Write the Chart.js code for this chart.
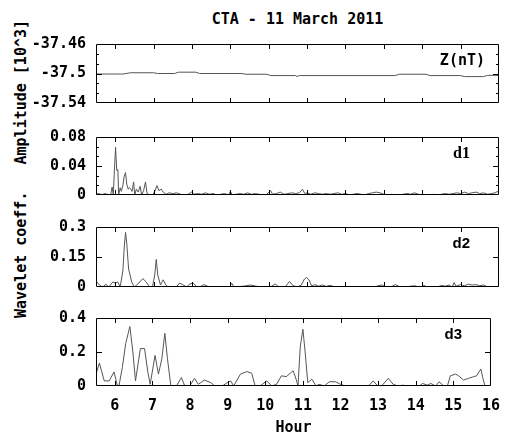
<!DOCTYPE html>
<html>
<head>
<meta charset="utf-8">
<script src="https://cdn.jsdelivr.net/npm/chart.js@4.4.1/dist/chart.umd.min.js"></script>
<style>
  body { margin: 0; background: #fff; }
  #wrap { position: relative; width: 511px; height: 437px; overflow: hidden; }
  canvas { position: absolute; left: 0; }
  .txt {
    position: absolute;
    font: bold 15px "DejaVu Sans Mono", monospace;
    color: #000;
    white-space: pre;
  }
  #title { left: 297.5px; top: 19px; transform: translate(-50%, -50%); }
  #ylab { left: 21px; top: 168.5px; transform: translate(-50%, -50%) rotate(-90deg); }
</style>
</head>
<body>
<div id="wrap">
  <div class="txt" id="title">CTA - 11 March 2011</div>
  <div class="txt" id="ylab">Wavelet coeff.   Amplitude [10^3]</div>
  <canvas id="c0"></canvas>
  <canvas id="c1"></canvas>
  <canvas id="c2"></canvas>
  <canvas id="c3"></canvas>
</div>
<script>
// x axis
const hourTicks = [6, 7, 8, 9, 10, 11, 12, 13, 14, 15, 16];

// Z(nT) amplitude
const zHours = [5.5, 6.2, 6.4, 7.0, 7.1, 7.55, 7.65, 8.1, 8.2, 9.3, 9.4, 9.95, 10.05, 10.7, 10.74, 10.8,
  13.3, 13.4, 14.1, 14.2, 15.0, 15.1, 15.6, 15.7, 16];
const zValues = [-37.5007, -37.5007, -37.499, -37.499, -37.5, -37.5, -37.4982, -37.4982, -37.5, -37.5,
  -37.501, -37.501, -37.5028, -37.5028, -37.504, -37.5028, -37.5028, -37.501, -37.501, -37.5028,
  -37.5028, -37.5042, -37.5042, -37.5025, -37.5025];
const zTicks = [-37.54, -37.5, -37.46];

// d1
const d1Hours = [5.50, 5.58, 5.65, 5.72, 5.80, 5.88, 5.92, 5.95, 5.98, 6.01, 6.04, 6.07, 6.09, 6.13, 6.16,
  6.20, 6.23, 6.27, 6.30, 6.34, 6.37, 6.41, 6.44, 6.48, 6.51, 6.55, 6.60, 6.65, 6.69, 6.74, 6.79, 6.83,
  6.90, 6.98, 7.03, 7.09, 7.14, 7.20, 7.25, 7.33, 7.40, 7.50, 7.60, 7.70, 7.80, 7.90, 7.99, 8.05, 8.15,
  8.25, 8.35, 8.45, 8.55, 8.65, 8.75, 8.85, 8.95, 9.00, 9.05, 9.15, 9.25, 9.35, 9.45, 9.55, 9.65, 9.75,
  9.85, 9.95, 10.05, 10.10, 10.20, 10.30, 10.40, 10.50, 10.60, 10.70, 10.80, 10.88, 10.94, 11.00, 11.10,
  11.20, 11.30, 11.40, 11.50, 11.60, 11.70, 11.80, 11.90, 12.00, 12.10, 12.20, 12.30, 12.40, 12.50,
  12.60, 12.70, 12.80, 12.90, 13.00, 13.10, 13.20, 13.30, 13.40, 13.50, 13.60, 13.70, 13.80, 13.90,
  14.00, 14.10, 14.20, 14.30, 14.40, 14.50, 14.60, 14.70, 14.80, 14.90, 15.00, 15.10, 15.20, 15.30,
  15.40, 15.50, 15.60, 15.70, 15.80, 15.90, 15.96, 16.00];
const d1Values = [0.001, 0.002, 0.000, 0.002, 0.001, 0.000, 0.011, 0.000, 0.034, 0.066, 0.034, 0.035,
  0.000, 0.010, 0.005, 0.013, 0.025, 0.031, 0.015, 0.008, 0.010, 0.008, 0.005, 0.018, 0.000, 0.008,
  0.004, 0.012, 0.000, 0.006, 0.018, 0.002, 0.000, 0.000, 0.005, 0.013, 0.006, 0.008, 0.004, 0.001,
  0.003, 0.002, 0.003, 0.001, 0.000, 0.001, 0.004, 0.001, 0.002, 0.001, 0.003, 0.001, 0.002, 0.000,
  0.001, 0.002, 0.000, 0.005, 0.000, 0.001, 0.002, 0.001, 0.003, 0.001, 0.002, 0.001, 0.000, 0.001,
  0.006, 0.001, 0.002, 0.004, 0.001, 0.002, 0.003, 0.002, 0.003, 0.008, 0.002, 0.003, 0.001, 0.003,
  0.002, 0.001, 0.002, 0.001, 0.002, 0.003, 0.001, 0.002, 0.000, 0.001, 0.002, 0.001, 0.000, 0.002,
  0.003, 0.004, 0.003, 0.001, 0.000, 0.001, 0.000, 0.000, 0.001, 0.002, 0.001, 0.003, 0.001, 0.000,
  0.000, 0.000, 0.001, 0.000, 0.001, 0.002, 0.001, 0.002, 0.003, 0.002, 0.004, 0.002, 0.003, 0.004,
  0.002, 0.003, 0.001, 0.002, 0.003, 0.005, 0.002];
const d1Ticks = [0, 0.04, 0.08];

// d2
const d2Hours = [5.50, 5.59, 5.67, 5.76, 5.83, 5.94, 6.01, 6.07, 6.13, 6.20, 6.24, 6.27, 6.30, 6.35, 6.43,
  6.50, 6.59, 6.72, 6.81, 6.90, 6.97, 7.03, 7.07, 7.11, 7.18, 7.25, 7.32, 7.38, 7.59, 7.68, 7.77, 7.87,
  7.94, 8.03, 8.12, 8.21, 8.31, 8.42, 8.51, 8.99, 9.03, 9.10, 9.38, 9.51, 9.65, 9.78, 10.04, 10.17,
  10.26, 10.43, 10.54, 10.63, 10.74, 10.85, 10.93, 10.99, 11.05, 11.12, 11.20, 11.30, 11.40, 11.50,
  11.60, 11.70, 11.80, 12.00, 12.20, 12.40, 12.60, 12.75, 12.85, 12.95, 13.05, 13.20, 13.30, 13.40,
  13.55, 13.70, 13.80, 13.90, 14.00, 14.05, 14.10, 14.40, 14.50, 14.60, 14.70, 14.78, 14.83, 14.88,
  15.00, 15.10, 15.20, 15.30, 15.40, 15.50, 15.60, 15.70, 16.00];
const d2Values = [0.030, 0.010, 0.000, 0.014, 0.000, 0.025, 0.020, 0.025, 0.000, 0.080, 0.210, 0.273,
  0.220, 0.090, 0.025, 0.000, 0.015, 0.042, 0.025, 0.000, 0.000, 0.060, 0.138, 0.060, 0.010, 0.036,
  0.010, 0.000, 0.000, 0.020, 0.010, 0.000, 0.015, 0.020, 0.003, 0.000, 0.012, 0.003, 0.000, 0.000,
  0.020, 0.000, 0.005, 0.010, 0.005, 0.000, 0.000, 0.015, 0.000, 0.000, 0.028, 0.008, 0.000, 0.010,
  0.040, 0.048, 0.035, 0.005, 0.012, 0.004, 0.010, 0.003, 0.008, 0.002, 0.000, 0.000, 0.000, 0.000,
  0.002, 0.000, 0.006, 0.010, 0.000, 0.002, 0.012, 0.002, 0.000, 0.004, 0.006, 0.000, 0.000, 0.010,
  0.000, 0.000, 0.008, 0.004, 0.010, 0.000, 0.022, 0.004, 0.012, 0.006, 0.014, 0.010, 0.012, 0.006,
  0.010, 0.000, 0.000];
const d2Ticks = [0, 0.15, 0.3];

// d3
const d3Hours = [5.50, 5.59, 5.72, 5.85, 5.98, 6.07, 6.11, 6.20, 6.29, 6.40, 6.48, 6.55, 6.68, 6.79, 6.88,
  6.94, 7.07, 7.16, 7.25, 7.33, 7.40, 7.49, 7.64, 7.77, 7.86, 7.99, 8.12, 8.22, 8.38, 8.55, 8.66, 8.86,
  8.99, 9.08, 9.16, 9.34, 9.51, 9.64, 9.73, 9.86, 10.04, 10.17, 10.30, 10.43, 10.56, 10.69, 10.74,
  10.82, 10.87, 10.93, 11.00, 11.06, 11.13, 11.24, 11.35, 11.43, 11.57, 11.70, 11.87, 12.00, 12.13,
  12.74, 12.87, 12.99, 13.09, 13.27, 13.40, 13.53, 13.66, 13.75, 14.10, 14.18, 14.31, 14.40, 14.53,
  14.62, 14.75, 14.84, 14.92, 15.06, 15.14, 15.27, 15.40, 15.54, 15.62, 15.73, 15.78, 15.84, 16.00];
const d3Values = [0.070, 0.135, 0.030, 0.030, 0.083, 0.000, 0.000, 0.109, 0.250, 0.350, 0.200, 0.030,
  0.220, 0.220, 0.080, 0.010, 0.180, 0.070, 0.160, 0.310, 0.160, 0.000, 0.000, 0.050, 0.000, 0.000,
  0.045, 0.010, 0.035, 0.020, 0.000, 0.000, 0.020, 0.030, 0.000, 0.070, 0.085, 0.075, 0.000, 0.000,
  0.030, 0.000, 0.010, 0.060, 0.055, 0.080, 0.090, 0.040, 0.000, 0.230, 0.334, 0.200, 0.020, 0.040,
  0.000, 0.010, 0.000, 0.025, 0.025, 0.010, 0.000, 0.000, 0.030, 0.000, 0.000, 0.045, 0.010, 0.000,
  0.005, 0.000, 0.000, 0.015, 0.005, 0.015, 0.000, 0.025, 0.000, 0.000, 0.060, 0.070, 0.060, 0.035,
  0.045, 0.055, 0.060, 0.100, 0.050, 0.000, 0.000];
const d3Ticks = [0, 0.2, 0.4];

Chart.defaults.font.family = '"DejaVu Sans Mono", monospace';
Chart.defaults.font.weight = 'bold';
Chart.defaults.font.size = 15;
Chart.defaults.color = '#000';

const panels = [
  { id: 'c0', hours: zHours, values: zValues, ticks: zTicks, minor: true, top: 35, bottom: 112,
    label: 'Z(nT)', labelFont: 'bold 15px "DejaVu Sans Mono"', labelRight: 14 },
  { id: 'c1', hours: d1Hours, values: d1Values, ticks: d1Ticks, minor: true, top: 128, bottom: 204,
    label: 'd1', labelFont: 'bold 16px "Liberation Serif"', labelRight: 29 },
  { id: 'c2', hours: d2Hours, values: d2Values, ticks: d2Ticks, minor: false, top: 218, bottom: 296,
    label: 'd2', labelFont: 'bold 15px "Liberation Sans"', labelRight: 29 },
  { id: 'c3', hours: d3Hours, values: d3Values, ticks: d3Ticks, minor: false, top: 309, bottom: 386,
    label: 'd3', labelFont: 'bold 15px "Liberation Sans"', labelRight: 29, last: true },
];

// box, inward ticks and panel label
const framePlugin = {
  id: 'frame',
  afterDraw(chart, args, opts) {
    const { ctx, chartArea: a, scales } = chart;
    const x = scales.x, y = scales.y;
    ctx.save();
    ctx.strokeStyle = '#000';
    ctx.lineWidth = 1;
    ctx.beginPath();
    ctx.rect(a.left + 0.5, a.top + 0.5, a.right - a.left - 1, a.bottom - a.top - 1);
    hourTicks.forEach(h => {
      const px = Math.round(x.getPixelForValue(h)) + 0.5;
      if (px > a.right - 2) return;
      ctx.moveTo(px, a.top); ctx.lineTo(px, a.top + 5);
      ctx.moveTo(px, a.bottom); ctx.lineTo(px, a.bottom - 5);
    });
    const t = opts.ticks;
    const marks = [];
    for (let i = 0; i < t.length; i++) {
      if (i > 0 && i < t.length - 1) marks.push([t[i], 6]);
      if (opts.minor && i < t.length - 1) {
        const step = (t[i + 1] - t[i]) / 3;
        marks.push([t[i] + step, 3], [t[i] + 2 * step, 3]);
      }
    }
    marks.forEach(([v, len]) => {
      const py = Math.round(y.getPixelForValue(v)) + 0.5;
      ctx.moveTo(a.left, py); ctx.lineTo(a.left + len, py);
      ctx.moveTo(a.right, py); ctx.lineTo(a.right - len, py);
    });
    ctx.stroke();
    ctx.font = opts.labelFont;
    ctx.fillStyle = '#000';
    ctx.textAlign = 'right';
    ctx.textBaseline = 'middle';
    ctx.fillText(opts.label, a.right - opts.labelRight, a.top + 17);
    ctx.restore();
  }
};

panels.forEach(p => {
  const canvas = document.getElementById(p.id);
  const canvasTop = p.top - 10;
  const h = p.last ? 437 - canvasTop : p.bottom - p.top + 20;
  canvas.width = 511;
  canvas.height = h;
  canvas.style.top = canvasTop + 'px';
  canvas.style.width = '511px';
  canvas.style.height = h + 'px';

  const xScale = {
    type: 'linear',
    min: 5.5,
    max: 16,
    display: !!p.last,
    afterBuildTicks: s => { s.ticks = hourTicks.map(v => ({ value: v })); },
    grid: { display: false, drawTicks: false },
    border: { display: false },
    ticks: { padding: 11, maxRotation: 0, autoSkip: false, callback: v => String(v) },
    title: { display: true, text: 'Hour', padding: { top: 0, bottom: 0 } },
  };
  if (p.last) xScale.afterFit = s => { s.height = 51; };

  new Chart(canvas, {
    type: 'line',
    data: {
      datasets: [{
        data: p.hours.map((hr, i) => ({ x: hr, y: p.values[i] })),
        borderColor: '#555',
        borderWidth: 1,
        pointRadius: 0,
        tension: 0,
        fill: false,
      }],
    },
    plugins: [framePlugin],
    options: {
      responsive: false,
      animation: false,
      devicePixelRatio: 1,
      layout: { padding: { top: 10, bottom: p.last ? 0 : 10, left: 0, right: 12 } },
      plugins: {
        legend: { display: false },
        tooltip: { enabled: false },
        frame: { ticks: p.ticks, minor: p.minor, label: p.label, labelFont: p.labelFont, labelRight: p.labelRight },
      },
      scales: {
        x: xScale,
        y: {
          min: p.ticks[0],
          max: p.ticks[p.ticks.length - 1],
          afterBuildTicks: s => { s.ticks = p.ticks.map(v => ({ value: v })); },
          afterFit: s => { s.width = 96; },
          grid: { display: false, drawTicks: false },
          border: { display: false },
          ticks: { padding: 10, autoSkip: false, callback: v => String(v) },
        },
      },
    },
  });
});
</script>
</body>
</html>
